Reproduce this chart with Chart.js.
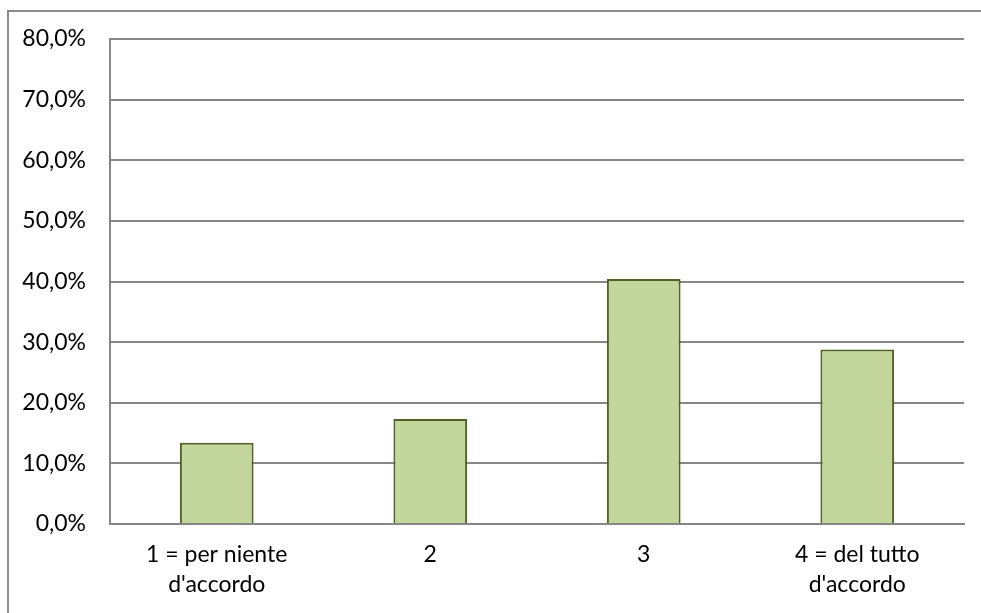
<!DOCTYPE html>
<html>
<head>
<meta charset="utf-8">
<script src="https://cdn.jsdelivr.net/npm/chart.js@4/dist/chart.umd.min.js"></script>
<style>
  html, body { margin: 0; padding: 0; background: #fff; }
  #wrap { position: relative; width: 981px; height: 613px; overflow: hidden; }
  #frame { position: absolute; left: 7px; top: 10px; width: 1000px; height: 620px; border: 2px solid #8c8c8c; box-sizing: border-box; }
  canvas { position: absolute; left: 0; top: 0; }
</style>
</head>
<body>
<div id="wrap">
  <div id="frame"></div>
  <canvas id="chart" width="981" height="613"></canvas>
</div>
<script>
// categories (multi-line labels) and percentages
const categories = [['1 = per niente', "d'accordo"], '2', '3', ['4 = del tutto', "d'accordo"]];
const percentages = [13.4, 17.3, 40.4, 28.8];
const yTicks = [0, 10, 20, 30, 40, 50, 60, 70, 80];

const ctx = document.getElementById('chart').getContext('2d');

new Chart(ctx, {
  type: 'bar',
  data: {
    labels: categories,
    datasets: [{
      data: percentages,
      backgroundColor: '#c3d69b',
      borderColor: '#4f6228',
      borderWidth: 2,
      categoryPercentage: 1,
      barPercentage: 0.345,
    }],
  },
  options: {
    responsive: false,
    animation: false,
    layout: { padding: { left: 0, right: 17, top: 39, bottom: 0 } },
    plugins: {
      legend: { display: false },
      tooltip: { enabled: false },
    },
    scales: {
      x: {
        grid: { display: false, drawTicks: false },
        border: { display: true, color: '#868686', width: 2 },
        ticks: {
          color: '#000',
          padding: 15,
          maxRotation: 0,
          autoSkip: false,
          font: { family: 'Lato', size: 23, lineHeight: 1.32 },
        },
        afterFit: (scale) => { scale.height = 89; },
      },
      y: {
        min: 0,
        max: 80,
        afterBuildTicks: (scale) => { scale.ticks = yTicks.map((v) => ({ value: v })); },
        grid: { color: '#868686', lineWidth: 2, drawTicks: false },
        border: { display: true, color: '#868686', width: 2 },
        ticks: {
          color: '#000',
          padding: 24,
          font: { family: 'Lato', size: 23 },
          callback: (value) => value.toFixed(1).replace('.', ',') + '%',
        },
        afterFit: (scale) => { scale.width = 110; },
      },
    },
  },
});
</script>
</body>
</html>
